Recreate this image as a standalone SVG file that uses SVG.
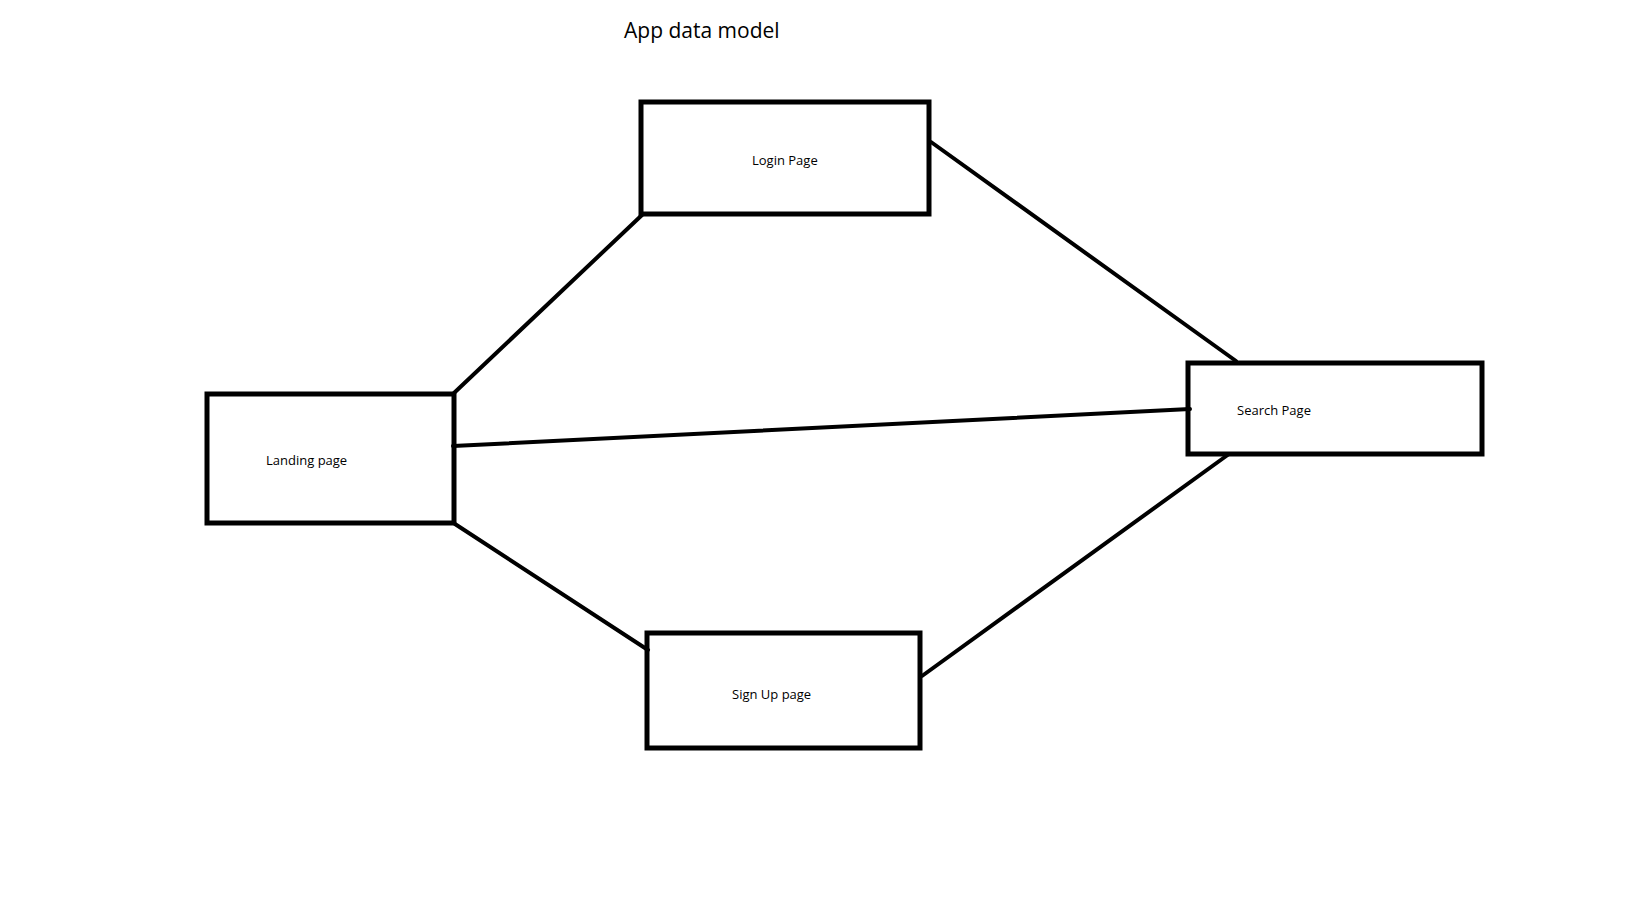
<svg xmlns="http://www.w3.org/2000/svg" width="1634" height="903" viewBox="0 0 1634 903">
<style>
.box{fill:none;stroke:#000;stroke-width:5}
.edge{stroke:#000;stroke-width:4;fill:none;stroke-linecap:round}
.lbl{font-family:"Open Sans","Noto Sans",sans-serif;font-size:13px;fill:#000}
.title{font-family:"Open Sans","Noto Sans",sans-serif;font-size:21px;fill:#000}
</style>
<rect width="1634" height="903" fill="#fff"/>
<text class="title" x="624" y="38">App data model</text>
<g id="connectors">
<line class="edge" x1="454" y1="393" x2="642" y2="215"/>
<line class="edge" x1="453" y1="446" x2="1190" y2="409"/>
<line class="edge" x1="455" y1="524" x2="648" y2="650"/>
<line class="edge" x1="931" y1="142" x2="1236" y2="361"/>
<line class="edge" x1="1229" y1="454" x2="922" y2="676"/>
</g>
<g id="login">
<rect class="box" x="641" y="102" width="288" height="112"/>
<text class="lbl" x="752" y="165">Login Page</text>
</g>
<g id="landing">
<rect class="box" x="207" y="394" width="247" height="129"/>
<text class="lbl" x="266" y="465">Landing page</text>
</g>
<g id="search">
<rect class="box" x="1188" y="363" width="294" height="91"/>
<text class="lbl" x="1237" y="415">Search Page</text>
</g>
<g id="signup">
<rect class="box" x="647" y="633" width="273" height="115"/>
<text class="lbl" x="732" y="699">Sign Up page</text>
</g>
</svg>
